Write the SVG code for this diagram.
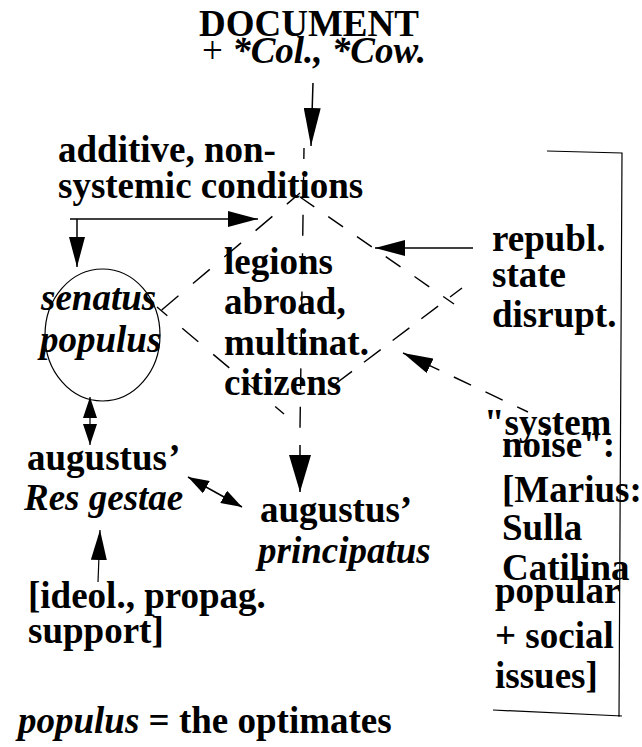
<svg xmlns="http://www.w3.org/2000/svg" width="642" height="747" viewBox="0 0 642 747">
  <style>
    text { font-family: "Liberation Serif", "Times New Roman", serif; font-size: 37px; font-weight: bold; fill: #000; }
    .it { font-style: italic; }
    .rg { font-weight: normal; }
    .ln { fill: none; stroke: #000; stroke-width: 1.5; }
    .dash { fill: none; stroke: #000; stroke-width: 1.4; }
    .thin { fill: none; stroke: #000; stroke-width: 1.2; }
  </style>
  <defs>
    <marker id="ah" markerUnits="userSpaceOnUse" markerWidth="30" markerHeight="16" viewBox="0 0 30 16" refX="30" refY="8" orient="auto">
      <path d="M0,0 L30,8 L0,16 Z" fill="#000"/>
    </marker>
    <marker id="ahLong" markerUnits="userSpaceOnUse" markerWidth="38" markerHeight="17" viewBox="0 0 38 17" refX="38" refY="8.5" orient="auto">
      <path d="M0,0 L38,8.5 L0,17 Z" fill="#000"/>
    </marker>
    <marker id="ahWide" markerUnits="userSpaceOnUse" markerWidth="37" markerHeight="22" viewBox="0 0 37 22" refX="37" refY="11" orient="auto">
      <path d="M0,0 L37,11 L0,22 Z" fill="#000"/>
    </marker>
    <marker id="ahSm" markerUnits="userSpaceOnUse" markerWidth="21" markerHeight="14" viewBox="0 0 21 14" refX="21" refY="7" orient="auto-start-reverse">
      <path d="M0,0 L21,7 L0,14 Z" fill="#000"/>
    </marker>
  </defs>

  <!-- connectors -->
  <g id="connectors">
    <!-- document feeds the conditions -->
    <path class="ln" d="M313,83 L311,146" marker-end="url(#ahLong)"/>
    <!-- central vertical axis down to the principate -->
    <path class="dash" d="M304,148 L300,428" stroke-dasharray="21 17.4" stroke-dashoffset="10"/>
    <path class="ln" d="M300,445 L300,492" marker-end="url(#ahWide)"/>
    <!-- dashed diamond -->
    <path class="dash" d="M300,193 L157,314" stroke-dasharray="22 19" stroke-dashoffset="4.8"/>
    <path class="dash" d="M300,197 L454,304" stroke-dasharray="18 17" stroke-dashoffset="0.6"/>
    <path class="dash" d="M157,307 L284,414" stroke-dasharray="21 19.5" stroke-dashoffset="7.5"/>
    <path class="dash" d="M462,288 L330,388" stroke-dasharray="21 15" stroke-dashoffset="6"/>
    <!-- additive conditions: to the centre and down to the senate -->
    <path class="ln" d="M70,219 L258,219" marker-end="url(#ah)"/>
    <path class="ln" d="M77,219 L77,267" marker-end="url(#ah)"/>
    <!-- republican state disruption -->
    <path class="ln" d="M473,248 L375,248" marker-end="url(#ah)"/>
    <!-- system noise -->
    <path class="dash" d="M528,412 L403,353" stroke-dasharray="19 16" stroke-dashoffset="7" marker-end="url(#ah)"/>
    <!-- senate and Res gestae -->
    <path class="thin" d="M90,397 L90,445" marker-start="url(#ahSm)" marker-end="url(#ahSm)"/>
    <!-- Res gestae and principate -->
    <path class="ln" d="M188,477 L242,507" marker-start="url(#ahSm)" marker-end="url(#ahSm)"/>
    <!-- ideology / propaganda support -->
    <path class="thin" d="M98,582 L100,530" marker-end="url(#ah)"/>
    <!-- bracket around the system noise column -->
    <path class="thin" d="M547,151 L622,153 L619,717 M493,710 L622,716"/>
  </g>

  <g id="document">
    <text x="199" y="36">DOCUMENT</text>
    <text x="202" y="63"><tspan class="rg">+ </tspan><tspan class="it">*Col., *Cow.</tspan></text>
  </g>

  <g id="conditions">
    <text x="58" y="162">additive, non-</text>
    <text x="58" y="198">systemic conditions</text>
  </g>

  <g id="senate">
    <ellipse cx="102.5" cy="335" rx="57.5" ry="66" class="thin"/>
    <text class="it" x="41" y="310">senatus</text>
    <text class="it" x="40" y="352">populus</text>
  </g>

  <g id="legions">
    <text x="224" y="274">legions</text>
    <text x="224" y="314">abroad,</text>
    <text x="224" y="355">multinat.</text>
    <text x="224" y="395">citizens</text>
  </g>

  <g id="republic">
    <text x="492" y="251">republ.</text>
    <text x="492" y="287">state</text>
    <text x="492" y="327">disrupt.</text>
  </g>

  <g id="res-gestae">
    <text x="27" y="470">augustus<tspan class="it">’</tspan></text>
    <text class="it" x="24" y="510">Res gestae</text>
  </g>

  <g id="principatus">
    <text x="260" y="522">augustus’</text>
    <text class="it" x="258" y="563">principatus</text>
  </g>

  <g id="ideology">
    <text x="28" y="608">[ideol., propag.</text>
    <text x="28" y="643">support]</text>
  </g>

  <g id="system-noise">
    <text x="484" y="435">"system</text>
    <text x="502" y="457">noise":</text>
    <text x="502" y="502">[Marius:</text>
    <text x="502" y="540">Sulla</text>
    <text x="502" y="580">Catilina</text>
    <text x="495" y="603">popular</text>
    <text x="495" y="648">+ social</text>
    <text x="495" y="688">issues]</text>
  </g>

  <g id="legend">
    <text x="18" y="733"><tspan class="it">populus</tspan> = the optimates</text>
  </g>
</svg>
